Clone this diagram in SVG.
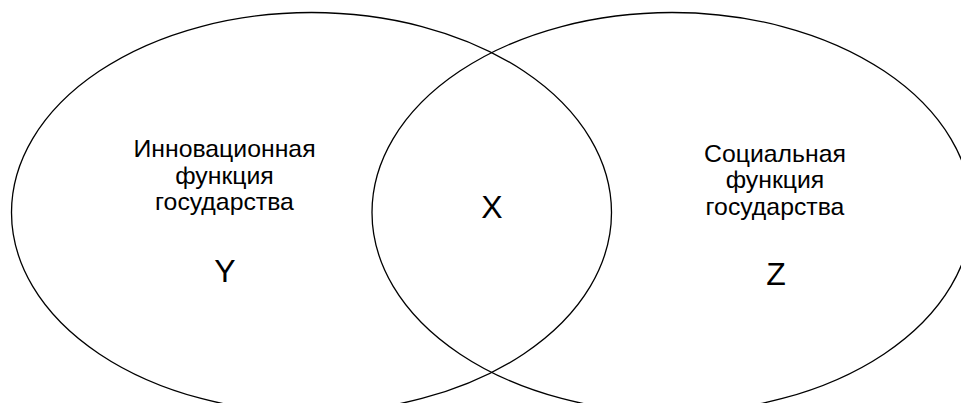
<svg xmlns="http://www.w3.org/2000/svg" width="961" height="403" viewBox="0 0 961 403">
<style>
.c{fill:none;stroke:#000;stroke-width:1.3}
.t{font-family:"Liberation Sans",Arial,sans-serif;font-size:24.8px;fill:#000;text-anchor:middle}
.b{font-family:"Liberation Sans",Arial,sans-serif;font-size:32px;fill:#000;text-anchor:middle}
</style>
<rect width="961" height="403" fill="#fff"/>
<g id="left">
<ellipse class="c" cx="311.5" cy="212.5" rx="300" ry="200"/>
<text class="t" x="224.5" y="157.3">Инновационная</text>
<text class="t" x="224.5" y="183.8">функция</text>
<text class="t" x="224.5" y="210.3">государства</text>
<text class="b" x="225" y="281.7">Y</text>
</g>
<g id="right">
<ellipse class="c" cx="672" cy="212.5" rx="300" ry="200"/>
<text class="t" x="775" y="161.7">Социальная</text>
<text class="t" x="775" y="188.2">функция</text>
<text class="t" x="775" y="214.7">государства</text>
<text class="b" x="776" y="285">Z</text>
</g>
<g id="center">
<text class="b" x="492" y="218.3">X</text>
</g>
</svg>
